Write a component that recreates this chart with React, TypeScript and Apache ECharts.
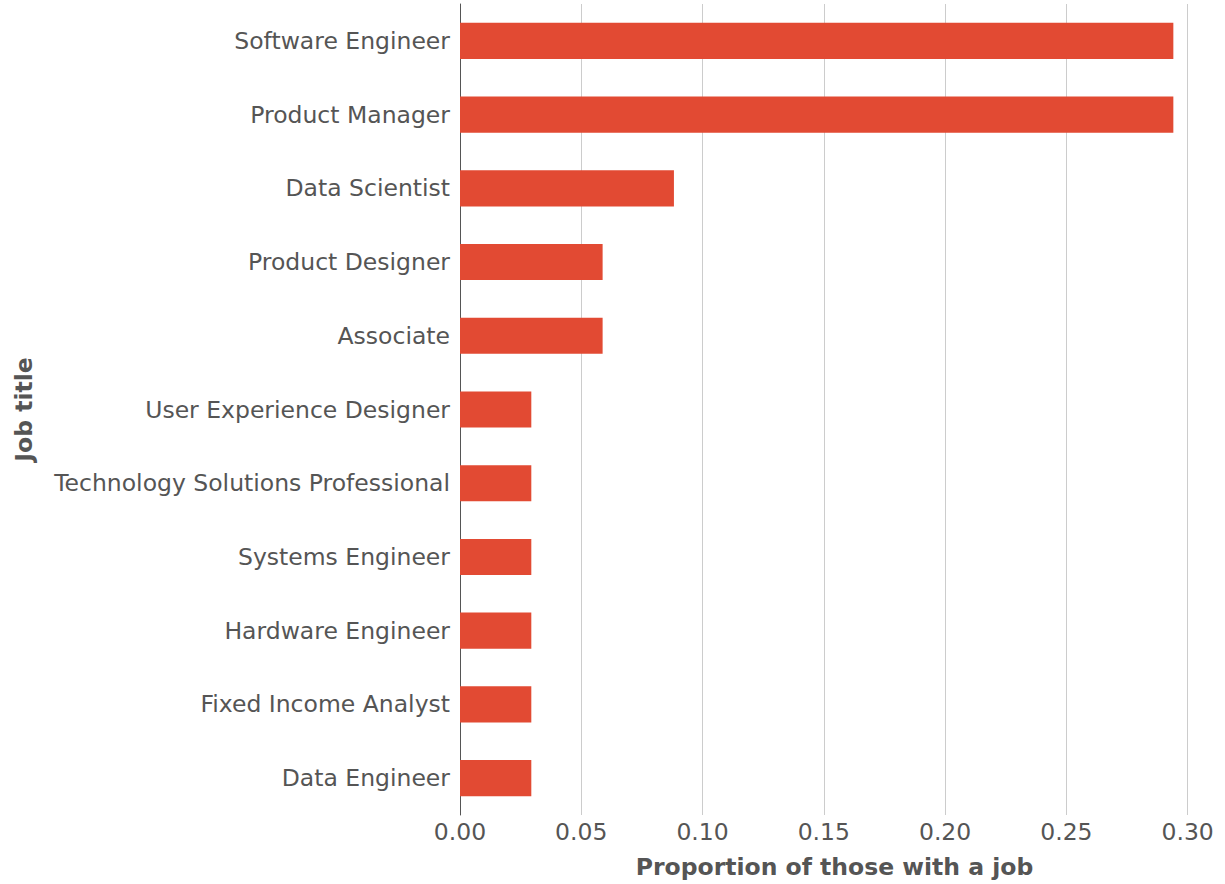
import React, { useEffect, useRef } from "react";
import * as echarts from "echarts";

const categories = [
  "Software Engineer",
  "Product Manager",
  "Data Scientist",
  "Product Designer",
  "Associate",
  "User Experience Designer",
  "Technology Solutions Professional",
  "Systems Engineer",
  "Hardware Engineer",
  "Fixed Income Analyst",
  "Data Engineer",
];
const values = [0.2941, 0.2941, 0.0882, 0.0588, 0.0588, 0.0294, 0.0294, 0.0294, 0.0294, 0.0294, 0.0294];
const xTicks = { min: 0, max: 0.3088, interval: 0.05 };

export default function App() {
  const ref = useRef<HTMLDivElement>(null);
  useEffect(() => {
    const chart = echarts.init(ref.current!, null, { renderer: "svg" });
    const font = "DejaVu Sans";
    const fs = 23.5;
    chart.setOption({
      animation: false,
      backgroundColor: "#ffffff",
      grid: { left: 460, right: 16, top: 4, bottom: 67, containLabel: false },
      xAxis: {
        type: "value",
        min: xTicks.min,
        max: xTicks.max,
        interval: xTicks.interval,
        name: "Proportion of those with a job",
        nameLocation: "middle",
        nameGap: 40,
        nameTextStyle: { fontFamily: font, fontSize: fs, fontWeight: "bold", color: "#555555" },
        axisLine: { show: false },
        axisTick: { show: false },
        axisLabel: {
          fontFamily: font,
          fontSize: fs,
          color: "#555555",
          margin: 5,
          showMaxLabel: false,
          formatter: (v: number) => v.toFixed(2),
        },
        splitLine: { show: true, showMaxLine: false, lineStyle: { color: "#cccccc", width: 1 } },
      },
      yAxis: {
        type: "category",
        data: categories,
        inverse: true,
        name: "Job title",
        nameLocation: "middle",
        nameGap: 424,
        nameTextStyle: { fontFamily: font, fontSize: fs, fontWeight: "bold", color: "#555555" },
        axisLine: { show: true, lineStyle: { color: "#555555", width: 1 } },
        axisTick: { show: false },
        axisLabel: { fontFamily: font, fontSize: fs, color: "#555555", margin: 10 },
        splitLine: { show: false },
      },
      series: [
        {
          type: "bar",
          data: values,
          barWidth: "49%",
          itemStyle: { color: "#E24A33" },
        },
      ],
    });
    return () => chart.dispose();
  }, []);
  return <div ref={ref} style={{ width: 1225, height: 884, position: "absolute", left: 0, top: 0 }} />;
}
